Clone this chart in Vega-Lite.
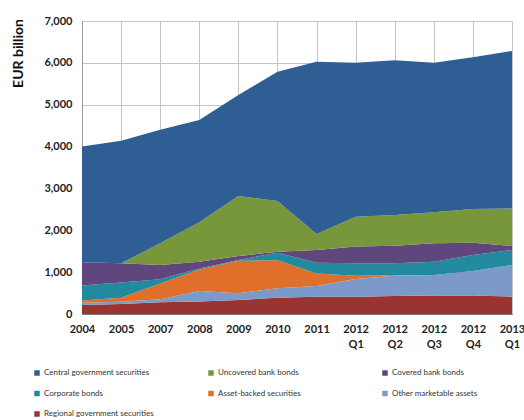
{
  "$schema": "https://vega.github.io/schema/vega-lite/v6.json",
  "width": 430,
  "height": 293,
  "autosize": "none",
  "padding": {"left": 82, "top": 21, "right": 12, "bottom": 106},
  "background": "white",
  "config": {"view": {"stroke": "#c4c4c4"}, "font": "Lato"},
  "data": {"values": [
    {"period": "2004", "series": "Regional government securities", "value": 215},
    {"period": "2004", "series": "Other marketable assets", "value": 55},
    {"period": "2004", "series": "Asset-backed securities", "value": 50},
    {"period": "2004", "series": "Corporate bonds", "value": 360},
    {"period": "2004", "series": "Covered bank bonds", "value": 555},
    {"period": "2004", "series": "Uncovered bank bonds", "value": 0},
    {"period": "2004", "series": "Central government securities", "value": 2765},
    {"period": "2005", "series": "Regional government securities", "value": 240},
    {"period": "2005", "series": "Other marketable assets", "value": 55},
    {"period": "2005", "series": "Asset-backed securities", "value": 95},
    {"period": "2005", "series": "Corporate bonds", "value": 360},
    {"period": "2005", "series": "Covered bank bonds", "value": 460},
    {"period": "2005", "series": "Uncovered bank bonds", "value": 0},
    {"period": "2005", "series": "Central government securities", "value": 2930},
    {"period": "2007", "series": "Regional government securities", "value": 280},
    {"period": "2007", "series": "Other marketable assets", "value": 70},
    {"period": "2007", "series": "Asset-backed securities", "value": 380},
    {"period": "2007", "series": "Corporate bonds", "value": 100},
    {"period": "2007", "series": "Covered bank bonds", "value": 340},
    {"period": "2007", "series": "Uncovered bank bonds", "value": 520},
    {"period": "2007", "series": "Central government securities", "value": 2710},
    {"period": "2008", "series": "Regional government securities", "value": 300},
    {"period": "2008", "series": "Other marketable assets", "value": 250},
    {"period": "2008", "series": "Asset-backed securities", "value": 515},
    {"period": "2008", "series": "Corporate bonds", "value": 20},
    {"period": "2008", "series": "Covered bank bonds", "value": 165},
    {"period": "2008", "series": "Uncovered bank bonds", "value": 940},
    {"period": "2008", "series": "Central government securities", "value": 2445},
    {"period": "2009", "series": "Regional government securities", "value": 335},
    {"period": "2009", "series": "Other marketable assets", "value": 160},
    {"period": "2009", "series": "Asset-backed securities", "value": 780},
    {"period": "2009", "series": "Corporate bonds", "value": 15},
    {"period": "2009", "series": "Covered bank bonds", "value": 95},
    {"period": "2009", "series": "Uncovered bank bonds", "value": 1435},
    {"period": "2009", "series": "Central government securities", "value": 2410},
    {"period": "2010", "series": "Regional government securities", "value": 390},
    {"period": "2010", "series": "Other marketable assets", "value": 225},
    {"period": "2010", "series": "Asset-backed securities", "value": 670},
    {"period": "2010", "series": "Corporate bonds", "value": 180},
    {"period": "2010", "series": "Covered bank bonds", "value": 20},
    {"period": "2010", "series": "Uncovered bank bonds", "value": 1215},
    {"period": "2010", "series": "Central government securities", "value": 3090},
    {"period": "2011", "series": "Regional government securities", "value": 410},
    {"period": "2011", "series": "Other marketable assets", "value": 260},
    {"period": "2011", "series": "Asset-backed securities", "value": 300},
    {"period": "2011", "series": "Corporate bonds", "value": 255},
    {"period": "2011", "series": "Covered bank bonds", "value": 305},
    {"period": "2011", "series": "Uncovered bank bonds", "value": 380},
    {"period": "2011", "series": "Central government securities", "value": 4115},
    {"period": "2012 Q1", "series": "Regional government securities", "value": 415},
    {"period": "2012 Q1", "series": "Other marketable assets", "value": 420},
    {"period": "2012 Q1", "series": "Asset-backed securities", "value": 80},
    {"period": "2012 Q1", "series": "Corporate bonds", "value": 295},
    {"period": "2012 Q1", "series": "Covered bank bonds", "value": 400},
    {"period": "2012 Q1", "series": "Uncovered bank bonds", "value": 715},
    {"period": "2012 Q1", "series": "Central government securities", "value": 3680},
    {"period": "2012 Q2", "series": "Regional government securities", "value": 430},
    {"period": "2012 Q2", "series": "Other marketable assets", "value": 485},
    {"period": "2012 Q2", "series": "Asset-backed securities", "value": 15},
    {"period": "2012 Q2", "series": "Corporate bonds", "value": 280},
    {"period": "2012 Q2", "series": "Covered bank bonds", "value": 420},
    {"period": "2012 Q2", "series": "Uncovered bank bonds", "value": 735},
    {"period": "2012 Q2", "series": "Central government securities", "value": 3700},
    {"period": "2012 Q3", "series": "Regional government securities", "value": 440},
    {"period": "2012 Q3", "series": "Other marketable assets", "value": 490},
    {"period": "2012 Q3", "series": "Asset-backed securities", "value": 0},
    {"period": "2012 Q3", "series": "Corporate bonds", "value": 320},
    {"period": "2012 Q3", "series": "Covered bank bonds", "value": 440},
    {"period": "2012 Q3", "series": "Uncovered bank bonds", "value": 740},
    {"period": "2012 Q3", "series": "Central government securities", "value": 3575},
    {"period": "2012 Q4", "series": "Regional government securities", "value": 440},
    {"period": "2012 Q4", "series": "Other marketable assets", "value": 590},
    {"period": "2012 Q4", "series": "Asset-backed securities", "value": 0},
    {"period": "2012 Q4", "series": "Corporate bonds", "value": 380},
    {"period": "2012 Q4", "series": "Covered bank bonds", "value": 295},
    {"period": "2012 Q4", "series": "Uncovered bank bonds", "value": 805},
    {"period": "2012 Q4", "series": "Central government securities", "value": 3625},
    {"period": "2013 Q1", "series": "Regional government securities", "value": 415},
    {"period": "2013 Q1", "series": "Other marketable assets", "value": 755},
    {"period": "2013 Q1", "series": "Asset-backed securities", "value": 0},
    {"period": "2013 Q1", "series": "Corporate bonds", "value": 360},
    {"period": "2013 Q1", "series": "Covered bank bonds", "value": 95},
    {"period": "2013 Q1", "series": "Uncovered bank bonds", "value": 895},
    {"period": "2013 Q1", "series": "Central government securities", "value": 3765}
  ]},
  "transform": [
    {"calculate": "indexof(['Regional government securities', 'Other marketable assets', 'Asset-backed securities', 'Corporate bonds', 'Covered bank bonds', 'Uncovered bank bonds', 'Central government securities'], datum.series)", "as": "stackOrder"}
  ],
  "mark": {"type": "area", "interpolate": "linear"},
  "encoding": {
    "x": {
      "field": "period", "type": "ordinal",
      "sort": ["2004", "2005", "2007", "2008", "2009", "2010", "2011", "2012 Q1", "2012 Q2", "2012 Q3", "2012 Q4", "2013 Q1"],
      "scale": {"type": "point", "padding": 0},
      "axis": {
        "title": null, "grid": true, "gridColor": "#c4c4c4", "ticks": false,
        "labelAngle": 0, "labelPadding": 9, "labelFontSize": 11, "labelFontWeight": "bold",
        "labelColor": "#222", "labelExpr": "split(datum.label, ' ')", "labelLineHeight": 15,
        "domainColor": "#777", "zindex": 0
      }
    },
    "y": {
      "field": "value", "type": "quantitative", "stack": "zero",
      "scale": {"domain": [0, 7000]},
      "axis": {
        "values": [0, 1000, 2000, 3000, 4000, 5000, 6000, 7000], "format": ",.0f",
        "grid": true, "gridColor": "#c4c4c4", "ticks": false, "labelPadding": 10,
        "labelFontSize": 11, "labelFontWeight": "bold", "labelColor": "#222",
        "domainColor": "#999",
        "title": "EUR billion", "titleFontSize": 14, "titleFontWeight": "bold", "titleColor": "#111",
        "titleX": -64, "titleY": 32, "titleAngle": -90, "titleAlign": "center", "titleBaseline": "middle"
      }
    },
    "order": {"field": "stackOrder", "type": "quantitative", "sort": "ascending"},
    "color": {
      "field": "series", "type": "nominal",
      "sort": ["Central government securities", "Uncovered bank bonds", "Covered bank bonds", "Corporate bonds", "Asset-backed securities", "Other marketable assets", "Regional government securities"],
      "scale": {
        "domain": ["Central government securities", "Uncovered bank bonds", "Covered bank bonds", "Corporate bonds", "Asset-backed securities", "Other marketable assets", "Regional government securities"],
        "range": ["#2E5E94", "#78973B", "#5F477E", "#22899F", "#DF6F2B", "#7B9ACA", "#9B3333"]
      },
      "legend": {
        "title": null, "orient": "none", "legendX": -49, "legendY": 348,
        "direction": "horizontal", "columns": 3, "gridAlign": "all",
        "columnPadding": 53, "rowPadding": 12.5,
        "symbolType": "square", "symbolSize": 30, "symbolStrokeWidth": 0,
        "labelFontSize": 8, "labelColor": "#333", "labelOffset": 3, "labelLimit": 200
      }
    }
  }
}
